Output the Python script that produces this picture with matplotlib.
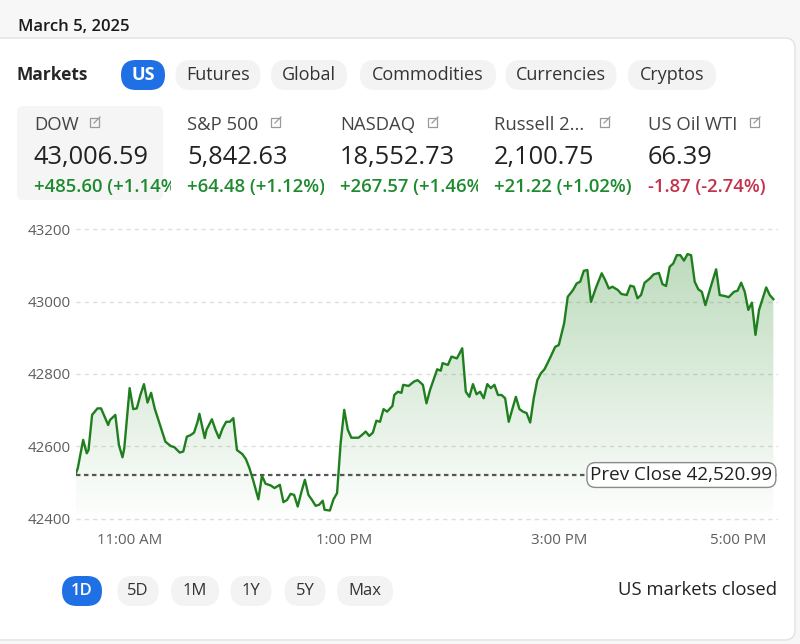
import matplotlib
matplotlib.use("Agg")
import matplotlib.pyplot as plt
import numpy as np
from matplotlib.patches import FancyBboxPatch, Rectangle
from matplotlib.transforms import ScaledTranslation, Bbox

plt.rcParams['font.family'] = ['Open Sans', 'DejaVu Sans']

# ---- data ----
date_label = "March 5, 2025"
market_tabs = ["US", "Futures", "Global", "Commodities", "Currencies", "Cryptos"]
tickers = ["DOW", "S&P 500", "NASDAQ", "Russell 2...", "US Oil WTI"]
prices = ["43,006.59", "5,842.63", "18,552.73", "2,100.75", "66.39"]
changes = ["+485.60 (+1.14%)", "+64.48 (+1.12%)", "+267.57 (+1.46%)",
           "+21.22 (+1.02%)", "-1.87 (-2.74%)"]
ranges = ["1D", "5D", "1M", "1Y", "5Y", "Max"]
prev_close = 42520.99

# minutes after 10:30 (local time), DOW value
minutes = [0, 1, 4, 6, 7, 9, 12, 14, 18, 19,
           22, 24, 26, 27, 30, 32, 34, 36, 38, 40,
           42, 44, 47, 50, 53, 55, 58, 60, 62, 64,
           66, 68, 69, 72, 73, 76, 78, 80, 82, 84,
           86, 88, 90, 93, 95, 97, 99, 102, 104, 106,
           109, 111, 114, 116, 118, 120, 122, 124, 126, 128,
           130, 132, 134, 136, 138, 139, 142, 144, 146, 148,
           150, 152, 154, 158, 160, 162, 164, 166, 168, 170,
           172, 174, 177, 178, 180, 182, 183, 186, 189, 191,
           192, 194, 196, 198, 202, 204, 205, 208, 210, 213,
           214, 216, 218, 220, 222, 224, 226, 228, 230, 232,
           234, 236, 238, 240, 242, 244, 246, 248, 250, 252,
           254, 256, 258, 260, 262, 265, 268, 270, 273, 275,
           278, 280, 282, 284, 286, 288, 291, 294, 296, 298,
           300, 303, 305, 308, 310, 312, 314, 316, 318, 321,
           323, 326, 328, 330, 332, 334, 336, 338, 340, 342,
           344, 346, 348, 350, 352, 355, 358, 360, 363, 365,
           368, 370, 372, 374, 376, 378, 380, 382, 386, 388,
           390]
dow = [42526, 42540, 42618, 42581, 42590, 42687, 42705, 42705, 42659, 42673,
       42687, 42604, 42570, 42595, 42761, 42703, 42705, 42742, 42772, 42721,
       42748, 42705, 42659, 42613, 42601, 42598, 42583, 42586, 42627, 42631,
       42638, 42668, 42690, 42623, 42646, 42675, 42646, 42623, 42650, 42668,
       42668, 42678, 42590, 42579, 42565, 42540, 42508, 42454, 42519, 42497,
       42492, 42485, 42494, 42446, 42452, 42469, 42466, 42434, 42473, 42508,
       42466, 42452, 42436, 42439, 42450, 42425, 42423, 42454, 42471, 42609,
       42701, 42646, 42624, 42624, 42632, 42641, 42629, 42638, 42671, 42668,
       42703, 42696, 42712, 42742, 42751, 42748, 42770, 42767, 42779, 42783,
       42779, 42770, 42719, 42756, 42813, 42809, 42830, 42825, 42848, 42843,
       42852, 42871, 42751, 42737, 42772, 42744, 42751, 42733, 42772, 42761,
       42770, 42742, 42742, 42733, 42668, 42703, 42737, 42703, 42696, 42692,
       42666, 42733, 42783, 42802, 42813, 42843, 42875, 42880, 42940, 43013,
       43032, 43050, 43055, 43085, 43087, 42999, 43041, 43078, 43059, 43036,
       43041, 43032, 43021, 43018, 43044, 43041, 43009, 43018, 43052, 43064,
       43075, 43079, 43048, 43043, 43096, 43105, 43128, 43128, 43113, 43131,
       43128, 43055, 43034, 43027, 42990, 43041, 43089, 43018, 43015, 43012,
       43027, 43030, 43052, 43027, 42977, 42997, 42908, 42977, 43039, 43018,
       43006.59]
y_ticks = [42400, 42600, 42800, 43000, 43200]
tick_minutes = [30, 150, 270, 390]
tick_labels = ["11:00 AM", "1:00 PM", "3:00 PM", "5:00 PM"]

GREEN = '#1f7f1f'
BLUE = '#1f6fe5'
PILL = '#f3f3f3'

fig = plt.figure(figsize=(8, 6.44), dpi=100)
fig.patch.set_facecolor('#f7f7f7')

# overlay axes in pixel coordinates for the widget chrome
ui = fig.add_axes([0, 0, 1, 1])
ui.set_xlim(0, 800)
ui.set_ylim(644, 0)
ui.axis('off')

ui.add_patch(FancyBboxPatch((-20, 38), 815, 602, boxstyle="round,pad=0,rounding_size=10",
                            fc='white', ec='#e2e2e2', lw=1))

ui.text(18, 27, date_label, fontsize=12, weight='semibold', va='center', color='#1a1a1a')
ui.text(17, 75, "Markets", fontsize=12.5, weight='bold', va='center', color='#262626')

tab_centers = [143, 218, 309, 428, 561, 672]
tab_widths = [44, 85, 76, 136, 111, 88]
for i, lab in enumerate(market_tabs):
    cx, w = tab_centers[i], tab_widths[i]
    active = i == 0
    ui.add_patch(FancyBboxPatch((cx - w / 2, 60), w, 30, boxstyle="round,pad=0,rounding_size=15",
                                fc=BLUE if active else PILL, ec='none'))
    ui.text(cx, 75, lab, fontsize=13, ha='center', va='center',
            color='white' if active else '#333333', weight='bold' if active else 'normal')

# ticker cards
ui.add_patch(FancyBboxPatch((17, 106), 146, 94, boxstyle="round,pad=0,rounding_size=6",
                            fc='#f5f5f5', ec='none'))
card_x = [34, 187, 340, 494, 648]
icon_x = [95, 276, 433, 605, 755]
clip_right = [171, 324, 478, 632, 790]
for i in range(len(tickers)):
    x0 = card_x[i]
    ui.text(x0, 125, tickers[i], fontsize=13.3, va='center', color='#444444')
    ix = icon_x[i]
    ui.add_patch(Rectangle((ix - 5, 118), 9, 9, fc='none', ec='#999999', lw=0.9))
    ui.plot([ix - 1, ix + 5], [123, 117], color='#999999', lw=0.9)
    ui.text(x0, 157, prices[i], fontsize=18.3, va='center', color='#222222')
    col = '#c4314b' if changes[i].startswith('-') else '#1e8a2e'
    t = ui.text(x0, 187, changes[i], fontsize=13.3, va='center', color=col, weight='semibold')
    t.set_clip_on(True)
    # clip box in display pixels (origin bottom-left)
    t.set_clip_box(Bbox([[0, 0], [clip_right[i], 644]]))

# bottom range buttons
range_centers = [82, 138, 195, 251, 305, 365]
range_widths = [40, 41, 48, 41, 41, 56]
for i, lab in enumerate(ranges):
    cx, w = range_centers[i], range_widths[i]
    active = i == 0
    ui.add_patch(FancyBboxPatch((cx - w / 2, 576), w, 30, boxstyle="round,pad=0,rounding_size=15",
                                fc=BLUE if active else PILL, ec='none'))
    ui.text(cx, 591, lab, fontsize=12, ha='center', va='center',
            color='white' if active else '#333333', weight='semibold' if active else 'normal')
ui.text(777, 590, "US markets closed", fontsize=13.3, ha='right', va='center',
        color='#222222', weight='medium')

# ---- chart ----
ax = fig.add_axes([76 / 800, (644 - 525) / 644, 702 / 800, 310 / 644])
ax.patch.set_alpha(0)
ax.set_xlim(0, 392.6)
ax.set_ylim(42383, 43239)
for s in ax.spines.values():
    s.set_visible(False)

ax.set_yticks(y_ticks)
ax.set_yticklabels([str(v) for v in y_ticks])
ax.set_xticks(tick_minutes)
ax.set_xticklabels(tick_labels)
ax.tick_params(length=0, labelsize=10.8, labelcolor='#5e5e5e', pad=6)
ax.tick_params(axis='y', pad=4)
xt = ax.get_xticklabels()
xt[-1].set_ha('center')
xt[-1].set_transform(xt[-1].get_transform() + ScaledTranslation(-35 / 100, 0, fig.dpi_scale_trans))
ax.grid(axis='y', color='#dedede', lw=1, linestyle=(0, (3, 3)))
ax.set_axisbelow(True)

# gradient fill under the line
fill = ax.fill_between(minutes, dow, 42383, color='none')
grad = np.zeros((256, 1, 4))
grad[:, :, 0] = 0.18
grad[:, :, 1] = 0.55
grad[:, :, 2] = 0.18
grad[:, 0, 3] = np.linspace(0.0, 0.34, 256)
im = ax.imshow(grad, extent=[0, 390, 42383, 43200], aspect='auto', origin='lower', zorder=1)
im.set_clip_path(fill.get_paths()[0], transform=ax.transData)

ax.plot(minutes, dow, color=GREEN, lw=1.7, solid_joinstyle='round', zorder=3)
ax.axhline(prev_close, color='#555555', lw=1.6, linestyle=(0, (2, 1.6)), zorder=2)
ax.text(389.5, prev_close, "Prev Close 42,520.99", ha='right', va='center', fontsize=13.6,
        color='#222222', zorder=5,
        bbox=dict(boxstyle='round,pad=0.18,rounding_size=0.45', fc='white', ec='#8a8a8a', lw=1))

plt.savefig("out.png", dpi=100, facecolor=fig.get_facecolor())
